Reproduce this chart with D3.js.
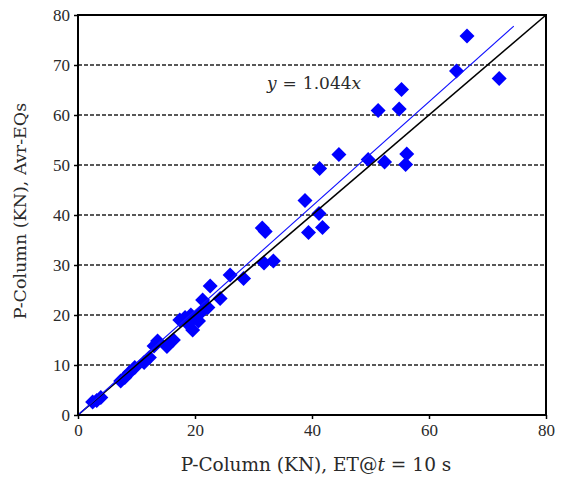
<!DOCTYPE html>
<html>
<head>
<meta charset="utf-8">
<script src="https://cdn.jsdelivr.net/npm/d3@7"></script>
<style>
  body { margin: 0; background: #ffffff; }
  text { font-family: "DejaVu Serif", "Liberation Serif", serif; fill: #2a2a2a; }
</style>
</head>
<body>
<svg id="chart" width="561" height="477"></svg>
<script>
// Column axial force (KN): elastic time-history at t = 10 s vs. average of EQ records
const forceET = [2.5, 3.2, 3.9, 7.3, 8.0, 8.8, 9.7, 11.3, 12.2, 13.0, 13.6, 15.2, 16.3,
  17.4, 18.3, 18.8, 19.6, 19.3, 20.6, 21.0, 21.3, 22.2, 22.6, 24.3, 26.0, 28.3,
  31.5, 32.0, 31.8, 33.4, 38.8, 39.4, 41.2, 41.8, 41.3, 44.6,
  49.6, 52.4, 56.2, 56.0, 51.3, 54.9, 55.3, 64.7, 66.5, 72.0];
const forceAvrEQ = [2.6, 2.9, 3.5, 6.8, 7.5, 8.5, 9.5, 10.5, 11.5, 13.8, 14.8, 13.7, 15.0,
  19.0, 19.5, 18.2, 17.0, 20.0, 18.8, 20.5, 23.0, 21.5, 25.8, 23.3, 28.0, 27.3,
  37.4, 36.7, 30.4, 30.8, 42.9, 36.5, 40.3, 37.5, 49.3, 52.1,
  51.1, 50.6, 52.2, 50.1, 60.9, 61.2, 65.1, 68.8, 75.8, 67.3];

const xTicks = [0, 20, 40, 60, 80];
const yTicks = [0, 10, 20, 30, 40, 50, 60, 70, 80];
const gridLevels = [10, 20, 30, 40, 50, 60, 70];
const fitSlope = 1.044;
const fitExtent = [0, 74.5];
const identityExtent = [0, 80];

const W = 561, H = 477;
const margin = { top: 15, right: 15, bottom: 62, left: 78 };
const svg = d3.select("#chart");

const x = d3.scaleLinear().domain([0, 80]).range([margin.left, W - margin.right]);
const y = d3.scaleLinear().domain([0, 80]).range([H - margin.bottom, margin.top]);

// dashed horizontal grid
svg.append("g")
  .selectAll("line")
  .data(gridLevels)
  .join("line")
  .attr("x1", x(0)).attr("x2", x(80))
  .attr("y1", d => y(d)).attr("y2", d => y(d))
  .attr("stroke", "#222")
  .attr("stroke-width", 1.5)
  .attr("stroke-dasharray", "4,2");

// data points as diamonds
const diamond = "M0,-7.5L7.5,0L0,7.5L-7.5,0Z";
svg.append("g")
  .selectAll("path")
  .data(forceET.map((v, i) => [v, forceAvrEQ[i]]))
  .join("path")
  .attr("d", diamond)
  .attr("transform", d => `translate(${x(d[0])},${y(d[1])})`)
  .attr("fill", "#0000ff");

// y = x reference line
svg.append("line")
  .attr("x1", x(identityExtent[0])).attr("y1", y(identityExtent[0]))
  .attr("x2", x(identityExtent[1])).attr("y2", y(identityExtent[1]))
  .attr("stroke", "#000").attr("stroke-width", 1.6);

// least-squares fit through origin
svg.append("line")
  .attr("x1", x(fitExtent[0])).attr("y1", y(fitSlope * fitExtent[0]))
  .attr("x2", x(fitExtent[1])).attr("y2", y(fitSlope * fitExtent[1]))
  .attr("stroke", "#1010ff").attr("stroke-width", 1.1);

// axes
const xAxis = d3.axisBottom(x).tickValues(xTicks).tickSize(4).tickPadding(5).tickFormat(d3.format("d"));
const yAxis = d3.axisLeft(y).tickValues(yTicks).tickSize(4).tickPadding(4).tickFormat(d3.format("d"));

const gx = svg.append("g").attr("transform", `translate(0,${y(0)})`).call(xAxis);
const gy = svg.append("g").attr("transform", `translate(${x(0)},0)`).call(yAxis);
[gx, gy].forEach(g => {
  g.select(".domain").remove();
  g.selectAll(".tick line").attr("stroke", "#000").attr("stroke-width", 1.5);
  g.selectAll(".tick text").attr("font-size", 17)
    .style("font-family", '"Liberation Serif", serif').attr("fill", "#2a2a2a");
});

// frame
svg.append("rect")
  .attr("x", x(0)).attr("y", y(80))
  .attr("width", x(80) - x(0)).attr("height", y(0) - y(80))
  .attr("fill", "none").attr("stroke", "#000").attr("stroke-width", 2);

// fit equation
const eq = svg.append("text")
  .attr("x", 267).attr("y", 89)
  .attr("font-size", 17);
eq.append("tspan").attr("font-style", "italic").text("y");
eq.append("tspan").attr("dx", 6).text("=");
eq.append("tspan").attr("dx", 6).text("1.044");
eq.append("tspan").attr("font-style", "italic").text("x");

// axis titles
const xt = svg.append("text")
  .attr("x", (x(0) + x(80)) / 2 + 4).attr("y", 471)
  .attr("text-anchor", "middle")
  .attr("font-size", 18.5);
xt.append("tspan").text("P-Column (KN), ET@");
xt.append("tspan").attr("font-style", "italic").text("t");
xt.append("tspan").attr("dx", 6).text("=");
xt.append("tspan").attr("dx", 6).text("10 s");

svg.append("text")
  .attr("transform", `translate(26,${(y(0) + y(80)) / 2 - 4}) rotate(-90)`)
  .attr("text-anchor", "middle")
  .attr("font-size", 17.5)
  .text("P-Column (KN), Avr-EQs");
</script>
</body>
</html>
